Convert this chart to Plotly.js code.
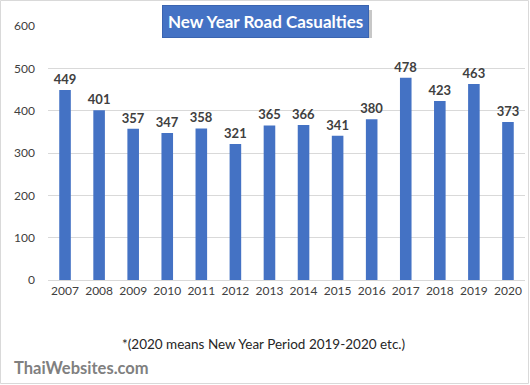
<!DOCTYPE html>
<html>
<head>
<meta charset="utf-8">
<script src="https://cdn.plot.ly/plotly-3.0.1.min.js"></script>
<style>
html,body{margin:0;padding:0;background:#fff;}
#chart{width:530px;height:385px;}
</style>
</head>
<body>
<div id="chart"></div>
<script>
const years = ['2007','2008','2009','2010','2011','2012','2013','2014','2015','2016','2017','2018','2019','2020'];
const casualties = [449,401,357,347,358,321,365,366,341,380,478,423,463,373];
const yTicks = [0,100,200,300,400,500,600];
const chartTitle = 'New Year Road Casualties';
const footnote = '*(2020 means New Year Period 2019-2020 etc.)';
const watermark = 'ThaiWebsites.com';

const trace = {
  type: 'bar',
  x: years,
  y: casualties,
  marker: {color: '#4472C4'},
  text: casualties.map(String),
  textposition: 'outside',
  constraintext: 'none',
  textfont: {family: 'Lato, "Open Sans", sans-serif', size: 13, color: '#404040', weight: 'bold'},
  cliponaxis: false,
  hoverinfo: 'x+y'
};

// pixel helpers (plot area: x 48..525, y 26..280)
const L = 48, T = 26, W = 477, H = 254;
const px = v => (v - L) / W;
const py = v => 1 - (v - T) / H;

const layout = {
  width: 530, height: 385,
  margin: {l: L, r: 530 - L - W, t: T, b: 385 - T - H},
  paper_bgcolor: '#fff',
  plot_bgcolor: 'rgba(0,0,0,0)',
  bargap: 0.66,
  showlegend: false,
  font: {family: 'Lato, "Open Sans", sans-serif', color: '#595959'},
  xaxis: {
    type: 'category',
    tickfont: {size: 12, color: '#404040'},
    showgrid: false,
    showline: true, linecolor: '#d9d9d9', linewidth: 1,
    ticks: '', ticklen: 0
  },
  yaxis: {
    range: [0, 600],
    tickvals: yTicks,
    tickfont: {size: 12, color: '#404040'},
    showgrid: true, gridcolor: '#d9d9d9', gridwidth: 1,
    zeroline: false,
    ticks: '', ticklabelstandoff: 12
  },
  shapes: [
    {type: 'rect', xref: 'paper', yref: 'paper', x0: px(0.5), x1: px(528.5), y0: py(383.5), y1: py(0.5),
     line: {color: '#d9d9d9', width: 1}, fillcolor: 'rgba(0,0,0,0)', layer: 'above'},
    {type: 'rect', xref: 'paper', yref: 'paper', x0: px(163), x1: px(372), y0: py(38), y1: py(10),
     line: {width: 0}, fillcolor: 'rgba(0,0,0,0.22)', layer: 'below'}
  ],
  annotations: [
    {xref: 'paper', yref: 'paper', x: px(265), y: py(21.5), xanchor: 'center', yanchor: 'middle',
     text: '<b>' + chartTitle + '</b>', showarrow: false, bgcolor: '#4472C4', bordercolor: '#3a64b0', borderwidth: 1, borderpad: 5,
     font: {family: 'Lato, "Open Sans", sans-serif', size: 17, color: '#ffffff'}},
    {xref: 'paper', yref: 'paper', x: px(263), y: py(344), xanchor: 'center', yanchor: 'middle',
     text: footnote, showarrow: false,
     font: {family: 'Lato, "Open Sans", sans-serif', size: 13.5, color: '#262626'}},
    {xref: 'paper', yref: 'paper', x: px(12), y: py(368), xanchor: 'left', yanchor: 'middle',
     text: '<b>' + watermark + '</b>', showarrow: false,
     font: {family: 'Lato, "Open Sans", sans-serif', size: 16.5, color: '#808080'}}
  ]
};

Plotly.newPlot('chart', [trace], layout, {displayModeBar: false, staticPlot: true});
</script>
</body>
</html>
